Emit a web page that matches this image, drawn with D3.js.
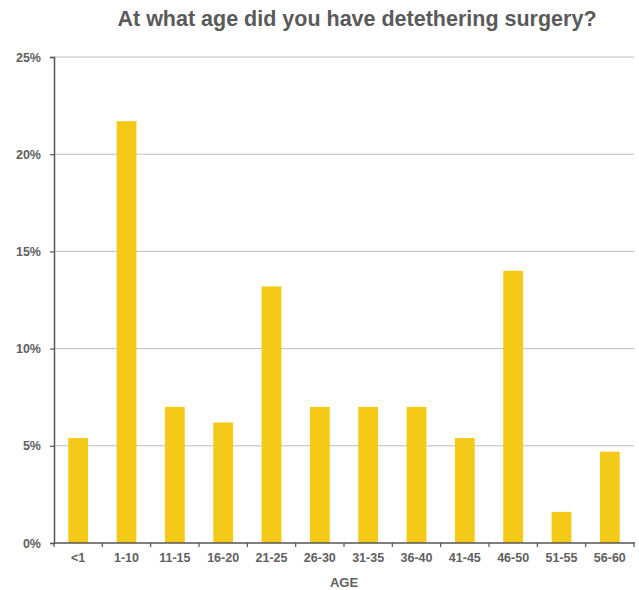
<!DOCTYPE html>
<html>
<head>
<meta charset="utf-8">
<script src="https://cdn.jsdelivr.net/npm/d3@7/dist/d3.min.js"></script>
<style>
  html, body { margin: 0; padding: 0; background: #fff; }
  svg { display: block; font-family: Arial, "Liberation Sans", sans-serif; }
</style>
</head>
<body>
<svg id="chart" width="639" height="590"></svg>
<script>
// Age groups at surgery and share of respondents (%)
const ageGroups = ["<1", "1-10", "11-15", "16-20", "21-25", "26-30", "31-35", "36-40", "41-45", "46-50", "51-55", "56-60"];
const percentages = [5.4, 21.7, 7.0, 6.2, 13.2, 7.0, 7.0, 7.0, 5.4, 14.0, 1.6, 4.7];
const yTicks = [0, 5, 10, 15, 20, 25];

const svg = d3.select("#chart");
const margin = { left: 54, right: 5, top: 57, bottom: 47 };
const W = 639, H = 590;
const x0 = margin.left, x1 = W - margin.right;
const y0 = H - margin.bottom, y1 = margin.top;

const x = d3.scaleBand().domain(ageGroups).range([x0, x1]).paddingInner(0.59).paddingOuter(0.295);
const xEdges = d3.scaleLinear().domain([0, ageGroups.length]).range([x0, x1]);
const y = d3.scaleLinear().domain([0, 25]).range([y0, y1]);

const labelFont = "Arial, 'Liberation Sans', sans-serif";

// Title
svg.append("text")
  .attr("x", 357).attr("y", 26)
  .attr("text-anchor", "middle")
  .attr("font-size", 21.5).attr("font-weight", "bold")
  .attr("fill", "#5a5a5a")
  .text("At what age did you have detethering surgery?");

// Horizontal gridlines
svg.append("g").selectAll("line")
  .data(yTicks.filter(t => t > 0))
  .join("line")
  .attr("x1", x0).attr("x2", x1)
  .attr("y1", d => y(d)).attr("y2", d => y(d))
  .attr("stroke", "#bdbdbd").attr("stroke-width", 1);

// Bars
svg.append("g").selectAll("rect")
  .data(ageGroups.map((g, i) => ({ g, v: percentages[i] })))
  .join("rect")
  .attr("x", d => x(d.g))
  .attr("width", x.bandwidth())
  .attr("y", d => y(d.v))
  .attr("height", d => y(0) - y(d.v))
  .attr("fill", "#f4c918");

// Y axis
const yAxis = svg.append("g")
  .attr("transform", `translate(${x0},0)`)
  .call(d3.axisLeft(y).tickValues(yTicks).tickFormat(d => d + "%").tickSize(4).tickPadding(9));
yAxis.select(".domain").attr("stroke", "#555").attr("stroke-width", 1.5);
yAxis.selectAll(".tick line").attr("stroke", "#555").attr("stroke-width", 1.2);
yAxis.selectAll("text")
  .attr("font-size", 12.5).attr("font-weight", "bold").attr("fill", "#606060")
  .attr("font-family", labelFont);

// X axis baseline and boundary ticks
const xAxis = svg.append("g");
xAxis.append("line")
  .attr("x1", x0).attr("x2", x1 + 1)
  .attr("y1", y0).attr("y2", y0)
  .attr("stroke", "#555").attr("stroke-width", 1.5);
xAxis.selectAll("line.tick")
  .data(d3.range(ageGroups.length + 1))
  .join("line")
  .attr("class", "tick")
  .attr("x1", d => xEdges(d)).attr("x2", d => xEdges(d))
  .attr("y1", y0).attr("y2", y0 + 4)
  .attr("stroke", "#555").attr("stroke-width", 1.2);
xAxis.selectAll("text")
  .data(ageGroups)
  .join("text")
  .attr("x", d => x(d) + x.bandwidth() / 2)
  .attr("y", y0 + 19)
  .attr("text-anchor", "middle")
  .attr("font-size", 12.5).attr("font-weight", "bold").attr("fill", "#606060")
  .text(d => d);

// X axis title
svg.append("text")
  .attr("x", (x0 + x1) / 2).attr("y", 587)
  .attr("text-anchor", "middle")
  .attr("font-size", 13).attr("font-weight", "bold").attr("fill", "#606060")
  .text("AGE");
</script>
</body>
</html>
